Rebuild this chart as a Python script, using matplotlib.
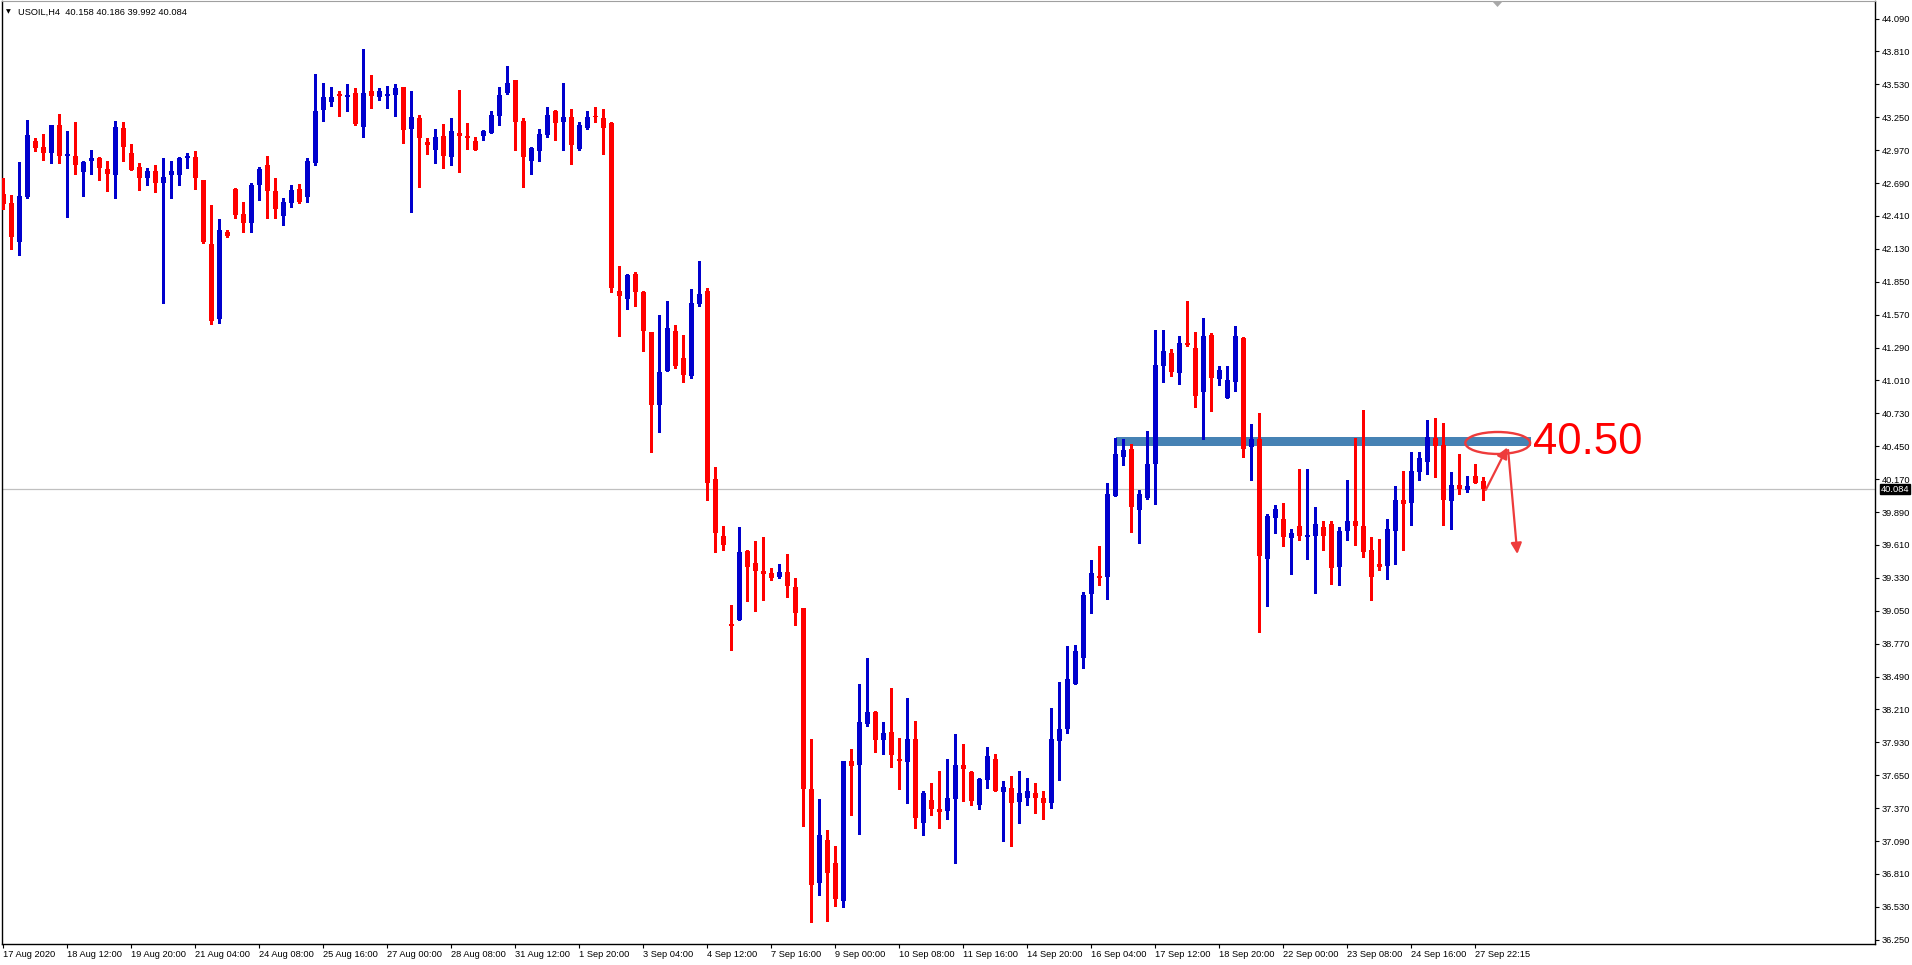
import numpy as np
import matplotlib
matplotlib.use('Agg')
import matplotlib.pyplot as plt
import matplotlib.transforms as mtransforms
from matplotlib.patches import Ellipse, Rectangle, Polygon

plt.rcParams['font.family'] = ['Liberation Sans', 'DejaVu Sans']

symbol = 'USOIL,H4'

# H4 candles, 17 Aug 2020 -> 27 Sep 2020
opens = [42.60, 42.52, 42.19, 42.57, 43.05, 43.00, 42.95, 43.18, 42.92, 42.92,
         42.78, 42.88, 42.90, 42.81, 42.76, 43.16, 42.95, 42.83, 42.73, 42.79,
         42.69, 42.76, 42.76, 42.90, 42.91, 42.72, 42.17, 41.53, 42.27, 42.64,
         42.43, 42.35, 42.67, 42.84, 42.62, 42.41, 42.52, 42.64, 42.57, 42.86,
         43.31, 43.38, 43.45, 43.42, 43.46, 43.17, 43.47, 43.42, 43.43, 43.44,
         43.51, 43.15, 43.24, 43.04, 42.97, 43.09, 42.91, 43.12, 43.09, 43.05,
         43.09, 43.12, 43.26, 43.46, 43.57, 43.22, 42.88, 42.96, 43.10, 43.30,
         43.21, 43.25, 42.98, 43.16, 43.26, 43.24, 43.20, 41.77, 41.70, 41.92,
         41.76, 41.42, 40.80, 41.09, 41.43, 41.20, 41.05, 41.66, 41.77, 40.17,
         39.69, 38.94, 38.97, 39.56, 39.46, 39.39, 39.37, 39.34, 39.38, 39.25,
         39.07, 37.53, 36.73, 37.10, 36.90, 36.58, 37.77, 37.74, 38.09, 38.19,
         37.95, 38.02, 37.79, 37.76, 37.96, 37.24, 37.44, 37.36, 37.35, 37.45,
         37.74, 37.68, 37.40, 37.61, 37.79, 37.51, 37.54, 37.42, 37.46, 37.50,
         37.46, 37.41, 37.94, 38.04, 38.43, 38.65, 39.19, 39.34, 39.34, 40.03,
         40.36, 40.43, 39.91, 40.01, 40.30, 41.13, 41.24, 41.07, 41.33, 41.29,
         40.91, 41.40, 41.02, 40.86, 41.00, 41.37, 40.44, 40.51, 39.49, 39.84,
         39.83, 39.67, 39.77, 39.68, 39.69, 39.76, 39.79, 39.42, 39.73, 39.81,
         39.77, 39.57, 39.45, 39.43, 39.73, 39.99, 39.97, 40.23, 40.32, 40.52,
         40.46, 39.98, 40.12, 40.08, 40.20, 40.158]
highs = [42.73, 42.59, 42.87, 43.23, 43.07, 43.11, 43.18, 43.28, 43.13, 43.21,
         42.88, 42.97, 42.91, 42.88, 43.22, 43.21, 43.02, 42.86, 42.82, 42.84,
         42.90, 42.88, 42.91, 42.95, 42.96, 42.72, 42.50, 42.38, 42.29, 42.65,
         42.53, 42.69, 42.83, 42.92, 42.73, 42.56, 42.67, 42.68, 42.90, 43.62,
         43.54, 43.51, 43.47, 43.53, 43.50, 43.83, 43.61, 43.50, 43.52, 43.53,
         43.51, 43.47, 43.27, 43.07, 43.15, 43.19, 43.24, 43.48, 43.20, 43.08,
         43.14, 43.30, 43.51, 43.69, 43.57, 43.24, 43.00, 43.15, 43.34, 43.31,
         43.54, 43.32, 43.21, 43.30, 43.34, 43.32, 43.21, 41.98, 41.92, 41.93,
         41.77, 41.42, 41.57, 41.69, 41.48, 41.40, 41.79, 42.03, 41.80, 40.27,
         39.77, 39.10, 39.76, 39.57, 39.64, 39.68, 39.41, 39.45, 39.53, 39.33,
         39.07, 37.96, 37.45, 37.18, 37.05, 37.77, 37.87, 38.43, 38.65, 38.20,
         38.10, 38.39, 37.97, 38.31, 38.11, 37.52, 37.58, 37.69, 37.79, 38.00,
         37.92, 37.69, 37.63, 37.89, 37.83, 37.60, 37.64, 37.69, 37.63, 37.58,
         37.52, 38.22, 38.44, 38.75, 38.76, 39.21, 39.48, 39.60, 40.14, 40.52,
         40.51, 40.47, 40.08, 40.58, 41.44, 41.44, 41.28, 41.39, 41.69, 41.42,
         41.54, 41.41, 41.13, 41.13, 41.47, 41.38, 40.64, 40.73, 39.87, 39.95,
         39.97, 39.75, 40.26, 40.26, 39.93, 39.81, 39.81, 39.76, 40.16, 40.52,
         40.76, 39.68, 39.66, 39.83, 40.11, 40.24, 40.40, 40.40, 40.67, 40.69,
         40.65, 40.23, 40.38, 40.20, 40.30, 40.186]
lows = [42.47, 42.13, 42.08, 42.56, 42.96, 42.89, 42.86, 42.86, 42.40, 42.77,
        42.58, 42.77, 42.72, 42.62, 42.56, 42.88, 42.80, 42.63, 42.67, 42.61,
        41.67, 42.56, 42.67, 42.82, 42.64, 42.18, 41.49, 41.50, 42.23, 42.39,
        42.27, 42.27, 42.55, 42.39, 42.39, 42.33, 42.49, 42.52, 42.53, 42.84,
        43.22, 43.35, 43.26, 43.30, 43.18, 43.08, 43.33, 43.40, 43.33, 43.26,
        43.03, 42.44, 42.66, 42.94, 42.86, 42.82, 42.84, 42.78, 42.98, 42.97,
        43.06, 43.12, 43.18, 43.45, 42.97, 42.66, 42.77, 42.88, 43.08, 43.06,
        42.97, 42.85, 42.97, 43.15, 43.21, 42.94, 41.76, 41.39, 41.62, 41.64,
        41.26, 40.40, 40.57, 41.09, 41.12, 41.00, 41.03, 41.64, 39.99, 39.55,
        39.57, 38.72, 38.97, 39.13, 39.05, 39.14, 39.31, 39.33, 39.17, 38.93,
        37.22, 36.40, 36.63, 36.41, 36.54, 36.53, 37.31, 37.15, 38.07, 37.85,
        37.83, 37.72, 37.53, 37.41, 37.20, 37.14, 37.31, 37.20, 37.28, 36.90,
        37.43, 37.40, 37.36, 37.54, 37.52, 37.09, 37.05, 37.24, 37.40, 37.33,
        37.28, 37.37, 37.61, 38.01, 38.43, 38.56, 39.03, 39.27, 39.15, 40.03,
        40.29, 39.72, 39.63, 40.00, 39.96, 41.00, 41.05, 40.98, 41.30, 40.78,
        40.51, 40.75, 40.97, 40.86, 40.92, 40.36, 40.16, 38.87, 39.09, 39.71,
        39.60, 39.36, 39.65, 39.49, 39.20, 39.57, 39.28, 39.27, 39.65, 39.61,
        39.51, 39.14, 39.40, 39.32, 39.45, 39.57, 39.78, 40.16, 40.21, 40.19,
        39.78, 39.75, 40.04, 40.06, 40.14, 39.992]
closes = [42.51, 42.23, 42.58, 43.10, 42.99, 42.95, 43.18, 42.92, 42.94, 42.84,
          42.87, 42.90, 42.82, 42.77, 43.17, 43.00, 42.80, 42.73, 42.79, 42.69,
          42.74, 42.79, 42.90, 42.92, 42.73, 42.19, 41.52, 42.29, 42.24, 42.42,
          42.35, 42.67, 42.81, 42.62, 42.47, 42.53, 42.63, 42.53, 42.88, 43.30,
          43.42, 43.42, 43.43, 43.44, 43.19, 43.46, 43.43, 43.47, 43.45, 43.50,
          43.14, 43.25, 43.07, 43.01, 43.08, 42.92, 43.13, 43.09, 43.07, 42.97,
          43.13, 43.27, 43.44, 43.54, 43.21, 42.91, 42.99, 43.11, 43.27, 43.20,
          43.25, 43.01, 43.18, 43.25, 43.25, 43.16, 41.80, 41.73, 41.91, 41.76,
          41.43, 40.80, 41.08, 41.46, 41.13, 41.06, 41.67, 41.75, 40.14, 39.71,
          39.61, 38.92, 39.55, 39.42, 39.39, 39.36, 39.33, 39.38, 39.26, 39.03,
          37.53, 36.72, 37.14, 36.82, 36.60, 37.77, 37.73, 38.10, 38.19, 37.95,
          38.01, 37.82, 37.77, 37.96, 37.29, 37.50, 37.36, 37.34, 37.46, 37.74,
          37.70, 37.43, 37.62, 37.81, 37.52, 37.55, 37.41, 37.50, 37.52, 37.46,
          37.41, 37.96, 38.04, 38.47, 38.71, 39.18, 39.37, 39.33, 40.04, 40.38,
          40.42, 39.93, 40.04, 40.30, 41.14, 41.26, 41.08, 41.33, 41.31, 40.88,
          41.39, 41.03, 41.10, 41.01, 41.39, 40.43, 40.51, 39.52, 39.86, 39.92,
          39.68, 39.71, 39.69, 39.69, 39.79, 39.69, 39.41, 39.73, 39.81, 39.77,
          39.55, 39.34, 39.42, 39.75, 39.99, 39.96, 40.24, 40.35, 40.53, 40.45,
          39.99, 40.12, 40.09, 40.11, 40.14, 40.084]

date_labels = ['17 Aug 2020', '18 Aug 12:00', '19 Aug 20:00', '21 Aug 04:00',
               '24 Aug 08:00', '25 Aug 16:00', '27 Aug 00:00', '28 Aug 08:00',
               '31 Aug 12:00', '1 Sep 20:00', '3 Sep 04:00', '4 Sep 12:00',
               '7 Sep 16:00', '9 Sep 00:00', '10 Sep 08:00', '11 Sep 16:00',
               '14 Sep 20:00', '16 Sep 04:00', '17 Sep 12:00', '18 Sep 20:00',
               '22 Sep 00:00', '23 Sep 08:00', '24 Sep 16:00', '27 Sep 22:15']
bars_per_label = 8

price_ticks = [36.25 + 0.28 * k for k in range(29)]

# drawn objects
level_text = '40.50'
band_from, band_to = 139.05, 190.9
band_low, band_high = 40.455, 40.531

W, H = 1912, 965
fig = plt.figure(figsize=(W / 100, H / 100), dpi=100)
ax = fig.add_axes([2 / W, 21 / H, 1873 / W, 943 / H])

o = np.array(opens)
h = np.array(highs)
l = np.array(lows)
c = np.array(closes)
x = np.arange(len(o))
colors = np.where(c >= o, '#0000CD', '#FF0000')

ax.add_patch(Rectangle((band_from, band_low), band_to - band_from, band_high - band_low,
                       facecolor='#4682B4', edgecolor='none', zorder=1))
ax.axhline(c[-1], color='#C0C0C0', lw=0.9, zorder=1)

ax.vlines(x, l, h, colors=colors, linewidth=1.0, antialiased=False, zorder=3)
ax.bar(x, np.maximum(np.abs(c - o), 0.012), bottom=np.minimum(o, c), width=0.625,
       color=colors, linewidth=0, antialiased=False, zorder=4)

# hand drawn annotation
red = '#EE3B3B'
ax.add_patch(Ellipse((186.8, 40.478), 8.1, 0.187, fill=False, edgecolor=red, lw=1.7, zorder=6))
ax.annotate('', xy=(188.0, 40.44), xytext=(185.3, 40.078),
            arrowprops=dict(arrowstyle='-|>', color=red, lw=1.6, mutation_scale=16,
                            shrinkA=0, shrinkB=0), zorder=7)
ax.annotate('', xy=(189.25, 39.533), xytext=(188.1, 40.418),
            arrowprops=dict(arrowstyle='-|>', color=red, lw=1.6, mutation_scale=16,
                            shrinkA=0, shrinkB=0), zorder=7)
ax.text(191.2, 40.384, level_text, color='#FF0000', fontsize=31.5, va='baseline', ha='left', zorder=7)

ax.set_xlim(-0.1625, 233.96)
ax.set_ylim(36.214, 44.2395)

ax.yaxis.tick_right()
ax.set_yticks(price_ticks)
ax.set_yticklabels([f'{v:.3f}' for v in price_ticks])
ax.set_xticks(np.arange(len(date_labels)) * bars_per_label)
ax.set_xticklabels(date_labels)
for lab in ax.get_xticklabels():
    lab.set_ha('left')
    lab.set_transform(lab.get_transform() + mtransforms.ScaledTranslation(2 / 100, 0, fig.dpi_scale_trans))
ax.tick_params(axis='y', direction='out', length=3, width=0.8, pad=2, labelsize=6.7, colors='black')
ax.tick_params(axis='x', direction='out', length=3, width=0.8, pad=1.5, labelsize=6.7, colors='black')

for s in ['left', 'right', 'bottom']:
    ax.spines[s].set_color('black')
    ax.spines[s].set_linewidth(1.0)
ax.spines['top'].set_color('#A0A0A0')

# current price tag on the scale
trans = mtransforms.blended_transform_factory(ax.transAxes, ax.transData)
ax.annotate(f'{c[-1]:.3f}', xy=(1, c[-1]), xycoords=trans, xytext=(4, 0), textcoords='offset points',
            color='white', fontsize=6.7, va='center', ha='left', annotation_clip=False,
            bbox=dict(facecolor='black', edgecolor='black', pad=0.4))

fig.text(6 / W, 1 - 12 / H, '▼', fontsize=4.5, family='DejaVu Sans', va='center')
fig.text(18 / W, 1 - 12 / H, f'{symbol}  {o[-1]:.3f} {h[-1]:.3f} {l[-1]:.3f} {c[-1]:.3f}',
         fontsize=6.7, va='center')
fig.add_artist(Polygon([[1492 / W, 1 - 1 / H], [1503 / W, 1 - 1 / H], [1497.5 / W, 1 - 7 / H]],
                       closed=True, transform=fig.transFigure, facecolor='#A8A8A8', edgecolor='none'))

fig.savefig('out.png', dpi=100)
